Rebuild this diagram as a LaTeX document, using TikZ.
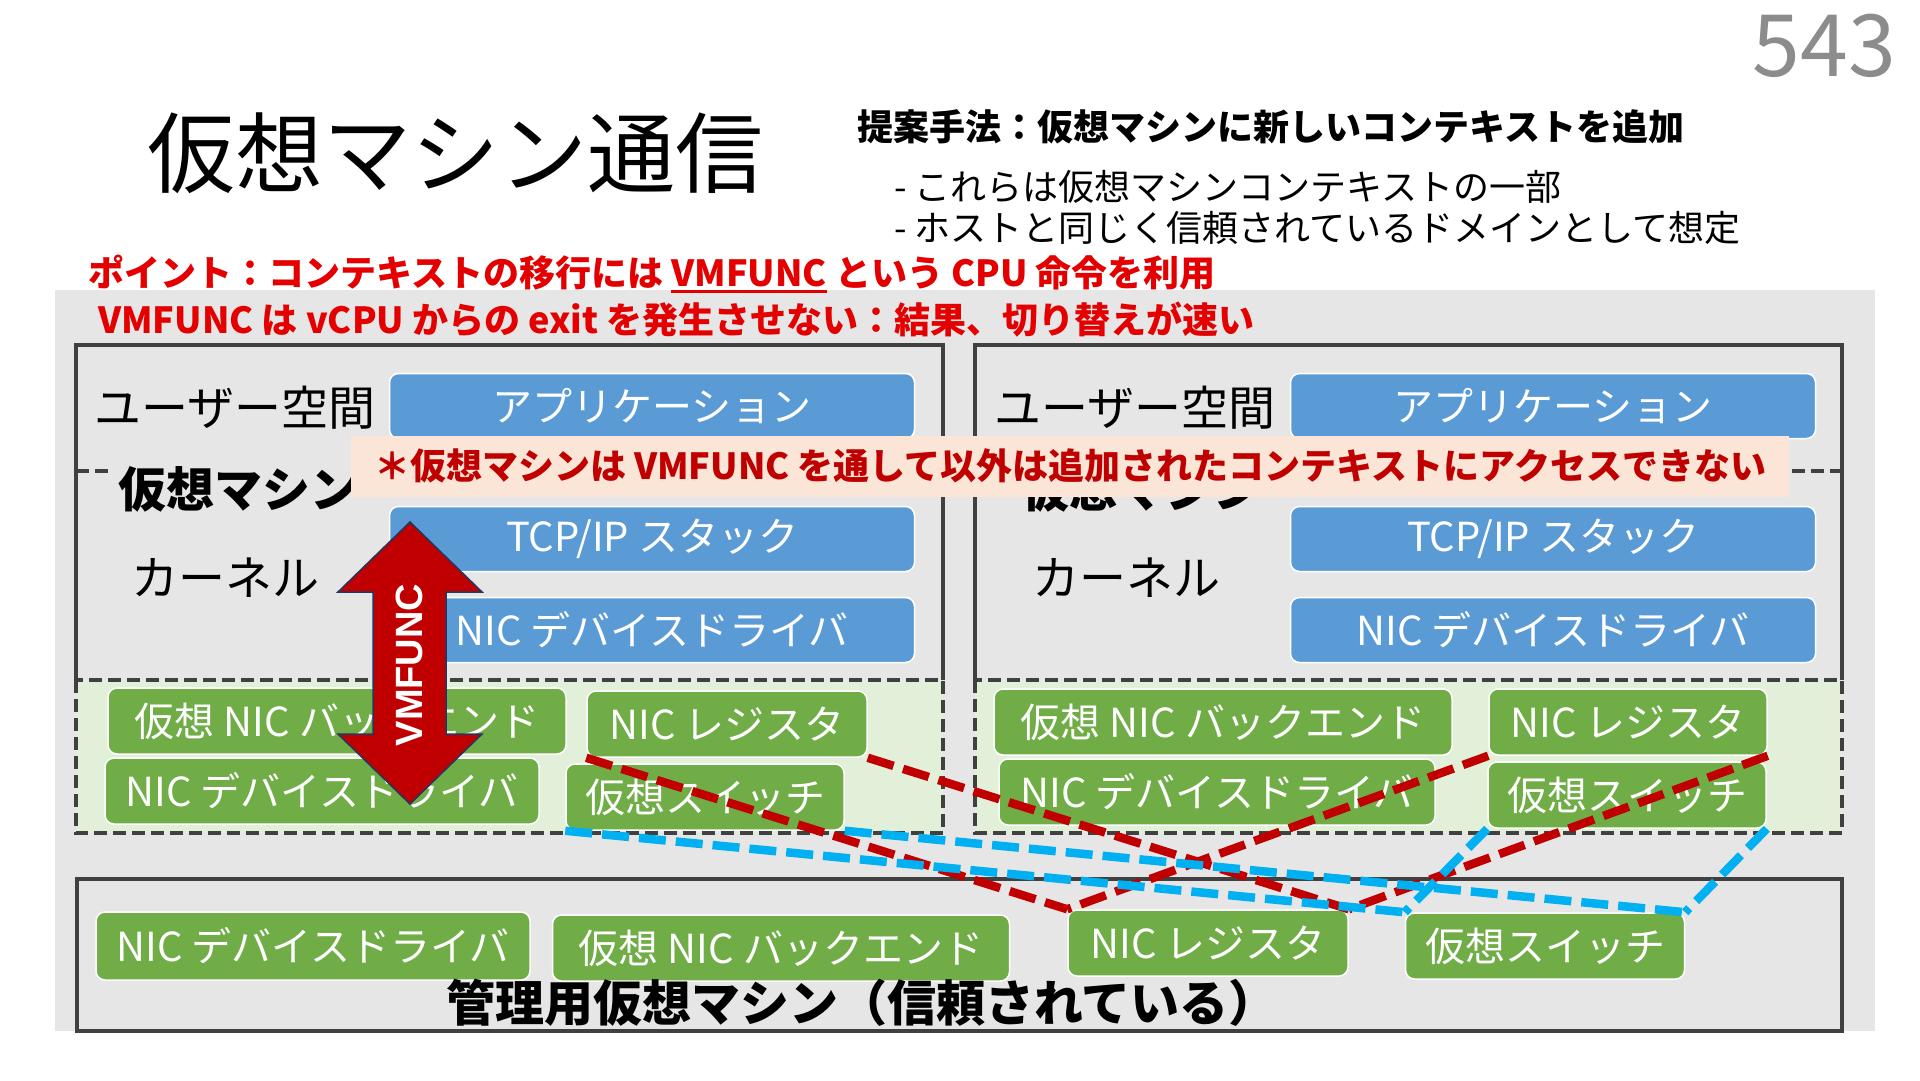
\documentclass[tikz,border=0pt]{standalone}
\usepackage{fontspec}
\setmainfont{Noto Sans CJK JP}
\newfontfamily\arialfont{Liberation Sans}
\usepackage{tikz}

\definecolor{panelgray}{RGB}{231,230,230}
\definecolor{framegray}{RGB}{64,64,64}
\definecolor{kblue}{RGB}{91,155,213}
\definecolor{ngreen}{RGB}{112,173,71}
\definecolor{areagreen}{RGB}{226,240,217}
\definecolor{notepink}{RGB}{251,229,214}
\definecolor{darkred}{RGB}{192,0,0}
\definecolor{hotred}{RGB}{228,0,0}
\definecolor{swcyan}{RGB}{0,176,240}
\definecolor{navyline}{RGB}{31,56,100}
\definecolor{pagegray}{RGB}{140,140,140}
\newcommand{\fsz}[1]{\fontsize{#1}{#1}\selectfont}
\newsavebox{\ulbox}
\newcommand{\ulword}[1]{\sbox{\ulbox}{#1}\rlap{\rule[-6pt]{\wd\ulbox}{2.5pt}}\usebox{\ulbox}}

\begin{document}
\begin{tikzpicture}[
    x=1pt, y=-1pt,
    cbox/.style={draw=white,line width=1.5pt,rounded corners=9pt,text=white,
                 font=\fsz{40},inner sep=0pt,minimum height=65pt},
    kbox/.style={cbox,fill=kblue,minimum width=525pt},
    gbox/.style={cbox,fill=ngreen,minimum height=66pt},
    vmline/.style={framegray,line width=4pt},
    vmdash/.style={vmline,dash pattern=on 13pt off 6pt},
    lbl/.style={anchor=west,inner sep=0pt,font=\fsz{47}},
    vmlbl/.style={anchor=west,fill=panelgray,inner sep=6pt,font=\bfseries\fsz{48}},
    txt/.style={anchor=west,inner sep=0pt,font=\fsz{36}},
    reglink/.style={darkred,line width=8.5pt,dash pattern=on 27pt off 10pt},
    swlink/.style={swcyan,line width=8.5pt,dash pattern=on 27pt off 10pt},
  ]
  \useasboundingbox (0,0) rectangle (1920,1080);
  \fill[white] (0,0) rectangle (1920,1080);
  \fill[panelgray] (55,290) rectangle (1875,1031);

  % two guest VMs: solid upper frame, dashed user/kernel split, dashed green area
  \foreach \xl/\xr in {76/943, 975/1842} {
    \draw[vmline] (\xl,680) -- (\xl,345) -- (\xr,345) -- (\xr,680);
    \draw[vmdash] (\xl,471) -- (\xr,471);
    \draw[vmdash,fill=areagreen] (\xl,680) rectangle (\xr,833);
  }
  \draw[vmline] (77,879) rectangle (1842,1031);

  % --- left guest VM ---
  \node[lbl] (userL) at (94,408) {ユーザー空間};
  \node[lbl] (kernL) at (131,578) {カーネル};
  \node[vmlbl] (vmL) at (112,489) {仮想マシン};
  \node[kbox] (appL) at (652,406) {アプリケーション};
  \node[kbox] (tcpL) at (652,539) {TCP/IP スタック};
  \node[kbox] (drvL) at (652,630) {NIC デバイスドライバ};
  \node[gbox,minimum width=458pt] (beL)   at (337,721) {仮想 NIC バックエンド};
  \node[gbox,minimum width=434pt] (gdrvL) at (322,791) {NIC デバイスドライバ};
  \node[gbox,minimum width=280pt] (regL)  at (727,724) {NIC レジスタ};
  \node[gbox,minimum width=278pt] (swL)   at (705,797) {仮想スイッチ};

  % --- right guest VM ---
  \node[lbl] (userR) at (994,408) {ユーザー空間};
  \node[lbl] (kernR) at (1032,578) {カーネル};
  \node[vmlbl] (vmR) at (1015,489) {仮想マシン};
  \node[kbox] (appR) at (1553,406) {アプリケーション};
  \node[kbox] (tcpR) at (1553,539) {TCP/IP スタック};
  \node[kbox] (drvR) at (1553,630) {NIC デバイスドライバ};
  \node[gbox,minimum width=458pt] (beR)   at (1223,722) {仮想 NIC バックエンド};
  \node[gbox,minimum width=436pt] (gdrvR) at (1217,792) {NIC デバイスドライバ};
  \node[gbox,minimum width=278pt] (regR)  at (1628,722) {NIC レジスタ};
  \node[gbox,minimum width=278pt] (swR)   at (1627,795) {仮想スイッチ};

  % --- management VM ---
  \node[gbox,minimum width=434pt,minimum height=68pt] (mdrv) at (313,946) {NIC デバイスドライバ};
  \node[gbox,minimum width=457pt] (mbe)  at (781,948) {仮想 NIC バックエンド};
  \node[gbox,minimum width=280pt] (mreg) at (1208,943) {NIC レジスタ};
  \node[gbox,minimum width=279pt] (msw)  at (1545,946) {仮想スイッチ};
  \node[anchor=west,inner sep=0pt,font=\bfseries\fsz{49}] (mgmt) at (446,1003)
    {管理用仮想マシン（信頼されている）};

  % --- register / switch links ---
  \draw[reglink] (regL.south west) -- (mreg.north west);
  \draw[reglink] (regL.south east) -- (mreg.north east);
  \draw[reglink] (regR.south west) -- (mreg.north west);
  \draw[reglink] (regR.south east) -- (mreg.north east);
  \draw[swlink] (swL.south west) -- (msw.north west);
  \draw[swlink] (swL.south east) -- (msw.north east);
  \draw[swlink] (swR.south west) -- (msw.north west);
  \draw[swlink] (swR.south east) -- (msw.north east);

  % VMFUNC block arrow across the kernel / context boundary
  \filldraw[fill=darkred,draw=navyline,line width=1.5pt]
    (410,522) -- (482,592) -- (446,592) -- (446,734) -- (482,734) -- (410,804)
    -- (338,734) -- (373,734) -- (373,592) -- (338,592) -- cycle;
  \node[rotate=90,text=white,font=\arialfont\bfseries\fsz{38}] (vmfunc) at (409,665) {VMFUNC};

  \node[fill=notepink,minimum width=1438pt,minimum height=61pt,inner sep=0pt,
        text=darkred,font=\bfseries\fsz{36}] (note) at (1070,466)
    {＊仮想マシンは VMFUNC を通して以外は追加されたコンテキストにアクセスできない};

  % --- heading texts ---
  \node[anchor=west,inner sep=0pt,font=\fsz{88}] (title) at (147,153) {仮想マシン通信};
  \node[anchor=east,inner sep=0pt,text=pagegray,font=\fsz{86}] (pageno) at (1896,46) {543};
  \node[txt,font=\bfseries\fsz{36}] (method) at (857,127) {提案手法：仮想マシンに新しいコンテキストを追加};
  \node[txt] (bullet1) at (894,187) {- これらは仮想マシンコンテキストの一部};
  \node[txt] (bullet2) at (894,228) {- ホストと同じく信頼されているドメインとして想定};
  \node[txt,text=hotred,font=\bfseries\fsz{36}] (point1) at (88,274)
    {ポイント：コンテキストの移行には \ulword{VMFUNC} という CPU 命令を利用};
  \node[txt,text=hotred,font=\bfseries\fsz{36}] (point2) at (98,320)
    {VMFUNC は vCPU からの exit を発生させない：結果、切り替えが速い};

\end{tikzpicture}
\end{document}
